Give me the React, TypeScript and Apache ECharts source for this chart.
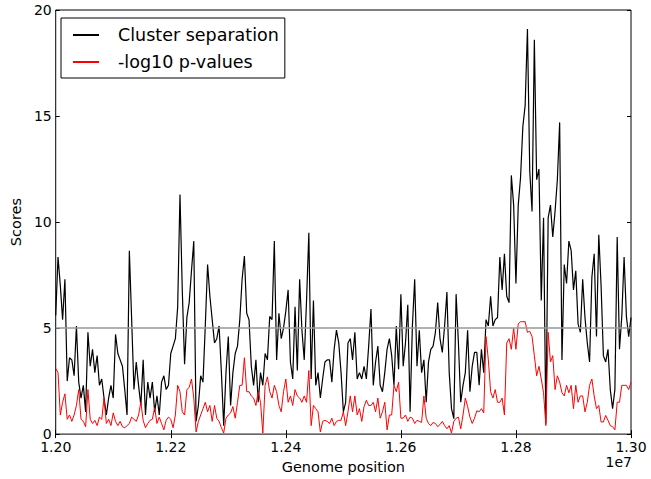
import React, { useEffect, useRef } from "react";
import * as echarts from "echarts";

// Genome windows: start position and window step (bp)
const START = 12000000;
const STEP = 4000;

// Cluster separation scores (one per window)
const clusterSeparation = [
  5.6, 8.35, 7.0, 5.4, 7.3, 2.5, 3.6, 3.5, 2.75, 5.1,
  2.45, 1.7, 2.3, 1.05, 4.8, 3.2, 4.0, 2.9, 3.7, 2.3,
  2.6, 1.7, 0.9, 1.7, 2.3, 1.7, 4.7, 3.8, 3.5, 3.2,
  2.1, 0.9, 8.65, 5.4, 2.1, 3.4, 2.3, 1.35, 3.5, 0.9,
  2.45, 1.7, 2.45, 1.05, 1.8, 0.9, 2.45, 2.75, 2.1, 2.3,
  3.8, 4.15, 4.5, 6.0, 11.3, 6.8, 3.3, 5.5, 6.2, 7.7,
  9.1, 0.6, 1.35, 2.75, 2.45, 5.1, 8.0, 6.5, 5.4, 4.3,
  4.5, 5.1, 2.9, 0.4, 2.9, 4.6, 1.35, 2.9, 3.8, 4.15,
  5.4, 7.3, 8.4, 5.7, 5.4, 3.2, 2.3, 3.5, 1.5, 2.9,
  2.3, 3.8, 3.5, 5.55, 5.4, 9.1, 3.5, 5.7, 4.5, 5.0,
  5.8, 6.8, 3.4, 2.6, 6.0, 3.0, 7.3, 4.9, 3.5, 6.3,
  9.5, 2.6, 6.3, 2.3, 2.9, 1.7, 2.6, 3.4, 3.5, 3.5,
  2.45, 4.0, 4.9, 4.3, 2.9, 1.05, 1.5, 4.3, 4.5, 3.5,
  4.8, 2.6, 2.9, 2.6, 3.2, 2.6, 4.15, 5.9, 2.3, 3.4,
  4.15, 2.3, 2.0, 2.9, 4.0, 4.5, 3.7, 2.3, 5.1, 3.06,
  6.6, 3.2, 4.3, 6.1, 1.05, 5.1, 7.3, 3.2, 4.9, 2.9,
  3.5, 1.5, 3.4, 4.0, 4.15, 4.8, 6.2, 4.5, 3.85, 5.1,
  6.7, 2.9, 1.2, 0.73, 6.6, 4.3, 1.5, 2.3, 2.9, 4.9,
  2.0, 3.2, 3.85, 3.85, 2.3, 4.0, 2.9, 5.4, 5.1, 6.5,
  5.1, 5.4, 5.5, 8.35, 6.8, 8.5, 6.5, 6.2, 12.2, 10.8,
  7.1, 10.8, 12.1, 14.5, 15.5, 19.1, 12.4, 10.5, 18.6, 12.0,
  12.5, 6.3, 10.2, 0.5, 10.2, 10.8, 9.3, 10.5, 12.0, 14.7,
  3.5, 8.0, 7.1, 9.1, 8.65, 6.8, 7.7, 5.2, 4.8, 7.3,
  5.5, 4.3, 3.4, 7.4, 8.5, 4.6, 9.4, 7.0, 3.7, 3.4,
  4.0, 2.1, 1.2, 2.1, 9.3, 4.0, 5.55, 8.35, 5.55, 4.6,
  5.5,
];

// -log10 p-values (one per window)
const pValues = [
  3.1, 2.9, 0.9, 1.5, 1.9, 0.7, 0.9, 0.6, 0.9, 1.35,
  2.1, 0.7, 0.6, 0.35, 2.1, 0.7, 0.5, 0.65, 0.4, 0.8,
  0.7, 1.7, 0.5, 0.7, 0.4, 1.0, 0.6, 0.4, 0.6, 0.35,
  0.3, 0.4, 0.5, 0.8, 0.7, 0.6, 0.9, 1.5, 0.65, 0.3,
  0.5, 0.65, 0.7, 1.25, 0.5, 0.8, 0.5, 0.2, 0.65, 0.8,
  0.7, 0.3, 0.9, 2.3, 2.0, 1.05, 0.9, 2.1, 2.2, 2.6,
  1.7, 0.1, 0.6, 0.9, 1.2, 1.5, 1.05, 1.35, 0.6, 1.35,
  0.75, 0.6, 0.3, 0.05, 0.75, 0.9, 1.0, 1.3, 0.75, 1.5,
  2.3, 2.3, 3.6, 2.0, 2.0, 1.8, 1.7, 1.35, 2.0, 1.5,
  0.05, 2.3, 2.7, 2.0, 1.7, 2.3, 2.0, 1.35, 1.05, 2.0,
  2.6, 1.5, 1.8, 1.35, 2.1, 1.8, 1.7, 1.5, 1.8, 1.5,
  3.0, 0.4, 1.35, 1.2, 1.05, 0.1, 0.6, 0.65, 0.6, 0.5,
  0.75, 0.4, 0.6, 0.65, 0.65, 1.05, 0.4, 1.05, 1.8, 1.05,
  1.8, 0.9, 1.2, 0.6, 1.3, 1.6, 1.35, 1.35, 1.5, 1.05,
  1.7, 0.75, 1.05, 1.5, 0.2, 0.9, 0.9, 2.3, 2.0, 2.45,
  0.75, 0.75, 0.9, 0.6, 0.8, 0.75, 0.5, 0.65, 0.6, 0.55,
  1.8, 0.75, 0.5, 0.4, 0.55, 0.5, 0.35, 0.45, 0.6, 0.4,
  0.25, 0.4, 0.05, 0.6, 0.75, 0.8, 0.25, 0.9, 1.7, 1.3,
  0.8, 0.5, 0.75, 1.1, 1.05, 1.2, 1.0, 4.6, 3.5, 2.0,
  1.7, 2.1, 1.5, 1.5, 1.7, 0.9, 4.3, 4.5, 4.0, 5.0,
  4.0, 5.2, 5.3, 5.3, 5.3, 4.8, 4.85, 4.6, 3.7, 2.75,
  3.2, 2.6, 1.95, 0.4, 4.8, 3.4, 3.7, 2.1, 2.75, 2.45,
  1.95, 1.8, 2.3, 1.95, 2.3, 1.2, 2.3, 1.5, 1.8, 1.8,
  1.05, 1.5, 2.3, 2.6, 1.8, 1.2, 1.35, 0.57, 0.57, 0.88,
  0.65, 0.4, 0.35, 0.2, 1.5, 1.5, 2.3, 2.3, 2.3, 2.1,
  2.45,
];

const THRESHOLD = 5;
const X_MIN = 12000000;
const X_MAX = 13000000;
const X_INTERVAL = 200000;
const Y_MIN = 0;
const Y_MAX = 20;
const Y_INTERVAL = 5;
const SERIES_NAMES = ["Cluster separation", "-log10 p-values"];
const X_NAME = "Genome position";
const Y_NAME = "Scores";
const OFFSET_TEXT = "1e7";

const FONT = "DejaVu Sans";

export default function App() {
  const ref = useRef<HTMLDivElement>(null);
  useEffect(() => {
    if (!ref.current) return;
    const chart = echarts.init(ref.current, null, { renderer: "svg" });
    const black = clusterSeparation.map((v, i) => [START + i * STEP, v]);
    const red = pValues.map((v, i) => [START + i * STEP, v]);
    const tick = { inside: true, length: 4, lineStyle: { color: "#000", width: 1 } };
    chart.setOption({
      animation: false,
      backgroundColor: "#ffffff",
      textStyle: { fontFamily: FONT },
      grid: {
        left: 52,
        right: 20,
        top: 10,
        bottom: 40,
        show: true,
        borderColor: "#000",
        borderWidth: 1,
        backgroundColor: "transparent",
      },
      legend: {
        orient: "vertical",
        left: 61,
        top: 18,
        padding: [8, 6, 7, 11],
        itemGap: 9,
        itemWidth: 26,
        itemHeight: 14,
        borderColor: "#000",
        borderWidth: 1,
        borderRadius: 0,
        backgroundColor: "#fff",
        itemStyle: { opacity: 0, color: "rgba(0,0,0,0)", borderWidth: 0 },
        textStyle: { fontSize: 17.5, color: "#000", fontFamily: FONT, padding: [0, 0, 0, 14] },
        data: SERIES_NAMES,
      },
      xAxis: [
        {
          type: "value",
          min: X_MIN,
          max: X_MAX,
          interval: X_INTERVAL,
          position: "bottom",
          axisLine: { show: false },
          axisTick: tick,
          splitLine: { show: false },
          axisLabel: {
            formatter: (v: number) => (v / 1e7).toFixed(2),
            color: "#000",
            fontSize: 14,
            margin: 6,
            fontFamily: FONT,
            showMinLabel: true,
            showMaxLabel: true,
          },
          name: X_NAME,
          nameLocation: "middle",
          nameGap: 20,
          nameTextStyle: { fontSize: 14.5, color: "#000", fontFamily: FONT },
        },
        {
          type: "value",
          min: X_MIN,
          max: X_MAX,
          interval: X_INTERVAL,
          position: "top",
          axisLine: { show: false },
          axisTick: tick,
          splitLine: { show: false },
          axisLabel: { show: false },
        },
      ],
      yAxis: [
        {
          type: "value",
          min: Y_MIN,
          max: Y_MAX,
          interval: Y_INTERVAL,
          position: "left",
          axisLine: { show: false },
          axisTick: tick,
          splitLine: { show: false },
          axisLabel: { color: "#000", fontSize: 14, margin: 4, fontFamily: FONT },
          name: Y_NAME,
          nameLocation: "middle",
          nameRotate: 90,
          nameGap: 19,
          nameTextStyle: { fontSize: 14.5, color: "#000", fontFamily: FONT },
        },
        {
          type: "value",
          min: Y_MIN,
          max: Y_MAX,
          interval: Y_INTERVAL,
          position: "right",
          axisLine: { show: false },
          axisTick: tick,
          splitLine: { show: false },
          axisLabel: { show: false },
        },
      ],
      graphic: [
        {
          type: "text",
          right: 19,
          top: 455,
          style: { text: OFFSET_TEXT, font: `14px "${FONT}"`, fill: "#000" },
        },
      ],
      series: [
        {
          type: "line",
          name: SERIES_NAMES[0],
          data: black,
          xAxisIndex: 0,
          yAxisIndex: 0,
          symbol: "none",
          showSymbol: false,
          lineStyle: { color: "#000", width: 1.2 },
          itemStyle: { color: "#000" },
          z: 2,
        },
        {
          type: "line",
          name: SERIES_NAMES[1],
          data: red,
          xAxisIndex: 0,
          yAxisIndex: 0,
          symbol: "none",
          showSymbol: false,
          lineStyle: { color: "#ff0000", width: 1 },
          itemStyle: { color: "#ff0000" },
          z: 3,
          markLine: {
            silent: true,
            symbol: "none",
            label: { show: false },
            lineStyle: { color: "#999999", width: 1.5, type: "solid" },
            data: [{ yAxis: THRESHOLD }],
          },
        },
      ],
    });
    return () => chart.dispose();
  }, []);
  return (
    <div
      ref={ref}
      style={{ position: "absolute", left: 0, top: 0, width: 651, height: 479 }}
    />
  );
}
